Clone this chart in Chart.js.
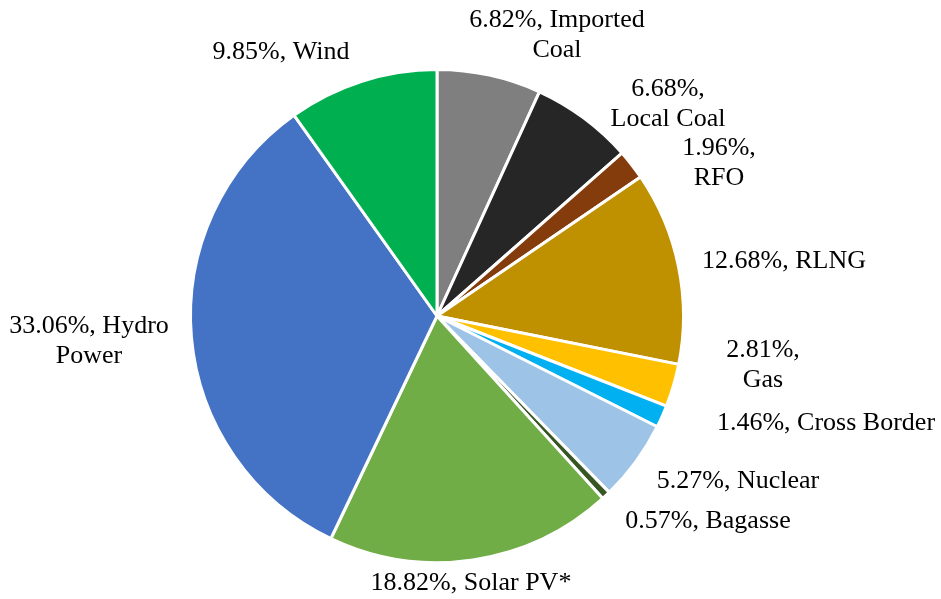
<!DOCTYPE html>
<html>
<head>
<meta charset="utf-8">
<title>Generation Mix</title>
<script src="https://cdn.jsdelivr.net/npm/chart.js@4.4.1/dist/chart.umd.min.js"></script>
<style>
  html, body { margin: 0; padding: 0; background: #fff; }
  canvas { display: block; }
</style>
</head>
<body>
<canvas id="mixChart" width="941" height="599"></canvas>
<script>
// --- Data ---
const sources = ['Imported Coal', 'Local Coal', 'RFO', 'RLNG', 'Gas', 'Cross Border',
                 'Nuclear', 'Bagasse', 'Solar PV*', 'Hydro Power', 'Wind'];
const shares = [6.82, 6.68, 1.96, 12.68, 2.81, 1.46, 5.27, 0.57, 18.82, 33.06, 9.85];
const sliceColors = ['#7f7f7f', '#262626', '#843c0c', '#bf9000', '#ffc000', '#00b0f0',
                     '#9dc3e6', '#375623', '#70ad47', '#4472c4', '#00b050'];

// label wrapping: '|' marks a line break in "<pct>%, <name>"
const labelWraps = ['Imported|Coal', '|Local Coal', '|RFO', 'RLNG', '|Gas', 'Cross Border',
                    'Nuclear', 'Bagasse', 'Solar PV*', 'Hydro|Power', 'Wind'];
// first-line centre of each label, relative to the pie centre
const labelOffsets = [[120, -296], [231, -227], [282, -168], [347, -55], [326, 34], [389, 107],
                      [301, 165], [271, 205], [34, 267], [-348, 10], [-156, -264]];

const FONT = '26px "Liberation Serif", "Times New Roman", serif';
const LINE_H = 30;

// --- Outside labels ---
const sliceLabels = {
  id: 'sliceLabels',
  afterDraw(chart) {
    const ctx = chart.ctx;
    const arcs = chart.getDatasetMeta(0).data;
    ctx.save();
    ctx.font = FONT;
    ctx.fillStyle = '#000';
    ctx.textAlign = 'center';
    ctx.textBaseline = 'middle';
    arcs.forEach((arc, i) => {
      const pct = shares[i].toFixed(2) + '%';
      const lines = (pct + ', ' + labelWraps[i]).split('|').map(s => s.trim());
      const x = arc.x + labelOffsets[i][0];
      const y = arc.y + labelOffsets[i][1];
      lines.forEach((line, k) => ctx.fillText(line, x, y + k * LINE_H));
    });
    ctx.restore();
  }
};

new Chart(document.getElementById('mixChart'), {
  type: 'pie',
  data: {
    labels: sources,
    datasets: [{
      data: shares,
      backgroundColor: sliceColors,
      borderColor: '#ffffff',
      borderWidth: 3,
      borderJoinStyle: 'bevel'
    }]
  },
  options: {
    responsive: false,
    animation: false,
    layout: { padding: { left: 189, right: 256, top: 68, bottom: 35 } },
    plugins: {
      legend: { display: false },
      tooltip: { enabled: false }
    }
  },
  plugins: [sliceLabels]
});
</script>
</body>
</html>
